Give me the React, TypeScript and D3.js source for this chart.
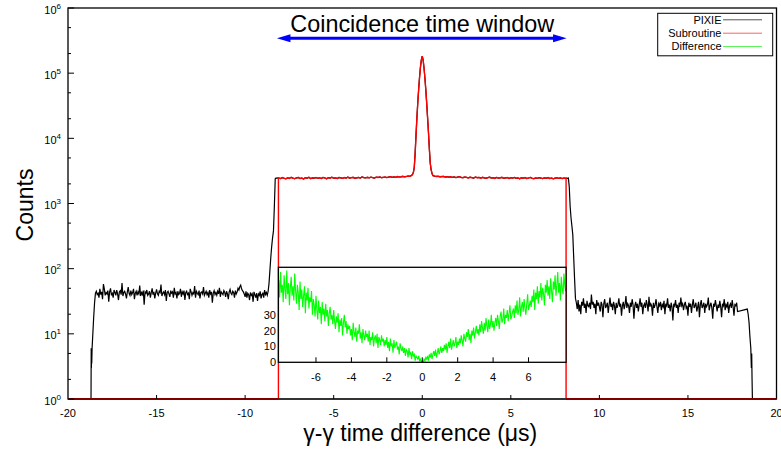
import React from 'react';
import * as d3 from 'd3';

// ---------- DATA ----------
const xTicks = [-20, -15, -10, -5, 0, 5, 10, 15, 20];
const yTickExps = [0, 1, 2, 3, 4, 5, 6];
const insetXTicks = [-6, -4, -2, 0, 2, 4, 6];
const insetYTicks = [0, 10, 20, 30];
const windowEdge = 8.12;

// PIXIE (black) pieces
const pixieLeftEdgeX = [-20, -18.7, -18.69, -18.68, -18.67, -18.66, -18.64, -18.55, -18.5, -18.45, -18.4, -18.35];
const pixieLeftEdgeY = [1, 1, 6, 3, 6, 3.5, 6, 18, 30, 42, 45, 40];
const pixieLeftFlatStart = -18.3;
const pixieFlatStep = 0.05;
const pixieLeftFlat = [
  42, 36, 49, 40, 44, 34, 58, 49, 39, 43, 41, 46, 31, 44, 50, 40, 42, 36, 47, 43,
  39, 47, 41, 33, 44, 46, 40, 60, 38, 43, 45, 41, 35, 44, 52, 42, 39, 46, 40, 43,
  49, 34, 42, 45, 39, 44, 41, 55, 38, 43, 40, 46, 28, 44, 42, 47, 39, 41, 45, 36,
  43, 50, 40, 44, 35, 42, 48, 41, 39, 45, 43, 57, 38, 42, 44, 40, 47, 32, 43, 45,
  41, 37, 46, 42, 44, 36, 51, 41, 43, 35, 45, 40, 42, 49, 37, 44, 41, 46, 33, 43,
  45, 40, 42, 34, 49, 44, 39, 43, 41, 54, 36, 45, 42, 40, 46, 35, 43, 44, 41, 52,
  39, 42, 45, 40, 43, 36, 47, 41, 44, 30, 42, 46, 40, 43, 39, 45, 41, 51, 37, 44,
  42, 40, 46, 43, 37, 45, 41, 34, 44, 48, 42, 40, 45, 43, 36, 46, 41, 44, 50, 47,
  53, 56, 49, 46, 44, 41, 37, 45, 36, 42, 40, 33, 43, 39, 41, 31, 44, 40, 36, 42,
  32, 41, 39, 45, 35, 40, 42, 36, 47, 40, 43, 39,
];
const pixieLeftRiseX = [-8.7, -8.65, -8.6, -8.55, -8.5, -8.45, -8.4, -8.35, -8.3, -8.25, -8.2, -8.15];
const pixieLeftRiseY = [45, 60, 95, 150, 220, 300, 380, 900, 2400, 2470, 2440, 2480];
const pixieRightDropX = [8.15, 8.2, 8.25, 8.3, 8.35, 8.4, 8.45, 8.5, 8.55, 8.6, 8.65];
const pixieRightDropY = [2450, 2430, 2460, 1800, 900, 600, 450, 330, 150, 70, 35];
const pixieRightFlatStart = 8.7;
const pixieRightFlat = [
  30, 24, 33, 22, 28, 20, 31, 27, 35, 25, 29, 21, 32, 27, 26, 30, 24, 40, 28, 31,
  25, 29, 20, 33, 27, 30, 26, 22, 31, 28, 18, 29, 34, 25, 27, 30, 21, 28, 36, 26,
  29, 23, 31, 27, 20, 30, 25, 28, 35, 26, 29, 19, 27, 31, 24, 28, 38, 25, 29, 27,
  21, 30, 26, 34, 28, 17, 27, 31, 25, 29, 22, 28, 35, 26, 30, 20, 27, 29, 25, 33,
  28, 22, 37, 26, 29, 27, 19, 30, 25, 28, 34, 26, 21, 29, 27, 31, 23, 28, 26, 32,
  20, 29, 27, 35, 25, 28, 22, 30, 26, 16, 29, 27, 33, 25, 28, 21, 30, 26, 36, 27,
  29, 23, 28, 31, 25, 27, 19, 30, 26, 29, 21, 28, 34, 25, 27, 30, 22, 26, 31, 18,
  28, 33, 25, 27, 30, 21, 29, 26, 28, 36, 23, 27, 30, 25, 17, 29, 26, 33, 27, 22,
  28, 25, 32, 26, 18, 29, 27, 34, 23, 28, 26, 31, 21, 27, 29, 25, 33, 26, 19, 28,
  27, 30, 22,
];
const pixieRightEdgeX = [18.35, 18.4, 18.45, 18.5, 18.55, 18.58, 18.6, 18.62, 18.64, 20];
const pixieRightEdgeY = [24, 20, 15, 9, 6, 3, 5, 2, 1, 1];

// Subroutine (red) pieces
const plateauStep = 0.1;
const subLeftPlateauStart = -8.1;
const subLeftPlateau = [
  2460, 2410, 2500, 2440, 2390, 2480, 2430, 2520, 2450, 2400,
  2470, 2510, 2420, 2460, 2380, 2490, 2440, 2530, 2410, 2470,
  2450, 2500, 2430, 2480, 2420, 2510, 2460, 2400, 2490, 2450,
  2530, 2440, 2480, 2420, 2510, 2470, 2430, 2500, 2460, 2540,
  2450, 2490, 2520, 2440, 2480, 2510, 2460, 2550, 2490, 2470,
  2520, 2480, 2540, 2500, 2460, 2530, 2510, 2560, 2490, 2520,
  2550, 2500, 2540, 2580, 2520, 2560, 2530, 2590, 2550, 2570,
  2610, 2560, 2600, 2640, 2620, 2700,
];
const subPeakX = [-0.55, -0.5, -0.45, -0.4, -0.35, -0.3, -0.25, -0.2, -0.15, -0.1, -0.05, 0,
  0.05, 0.1, 0.15, 0.2, 0.25, 0.3, 0.35, 0.4, 0.45, 0.5, 0.55];
const subPeakY = [2800, 3000, 3600, 6000, 11500, 21000, 36000, 58000, 88000, 125000, 160000, 182000,
  158000, 120000, 85000, 56000, 35000, 21000, 12500, 7000, 4200, 3300, 2900];
const subRightPlateauStart = 0.6;
const subRightPlateau = [
  2680, 2630, 2600, 2620, 2570, 2590, 2610, 2550, 2580, 2540,
  2570, 2520, 2560, 2500, 2540, 2580, 2510, 2490, 2550, 2520,
  2470, 2530, 2500, 2460, 2540, 2490, 2510, 2450, 2520, 2480,
  2440, 2500, 2530, 2470, 2490, 2430, 2510, 2460, 2480, 2520,
  2440, 2470, 2500, 2420, 2490, 2450, 2510, 2430, 2470, 2400,
  2480, 2450, 2500, 2420, 2460, 2510, 2440, 2400, 2470, 2430,
  2490, 2450, 2410, 2480, 2440, 2500, 2420, 2460, 2390, 2450,
  2480, 2430, 2470, 2410, 2460, 2440,
];

// Difference (green), bins from -8.1 step 0.05
const diffStart = -8.1;
const diffStep = 0.05;
const diffValues = [
  52, 41, 57, 44, 49, 38, 55, 46, 40, 58, 43, 50, 36, 47, 54, 42, 48, 39, 56, 45,
  37, 49, 44, 33, 51, 40, 46, 35, 42, 48, 31, 44, 39, 47, 34, 41, 38, 45, 30, 40,
  36, 29, 42, 33, 27, 39, 31, 35, 24, 38, 30, 34, 26, 37, 29, 33, 23, 31, 35, 27,
  30, 24, 33, 26, 21, 29, 25, 31, 19, 27, 23, 28, 17, 25, 30, 22, 26, 18, 24, 21,
  23, 17, 21, 14, 25, 19, 16, 22, 13, 20, 18, 24, 15, 19, 12, 21, 17, 14, 20, 16,
  18, 13, 20, 11, 16, 14, 19, 10, 15, 17, 12, 18, 9, 16, 14, 11, 17, 13, 15, 10,
  14, 11, 16, 9, 13, 7, 15, 10, 12, 6, 14, 9, 11, 13, 8, 10, 5, 12, 9, 7,
  10, 6, 9, 4, 8, 7, 3, 9, 5, 6, 2, 7, 4, 5, 1, 4, 3, 2, 4, 1,
  2, 0, 1, 0, 2,
  1, 3, 2, 4, 1, 5, 3, 6, 2, 5, 7, 4, 8, 3, 6, 9, 5, 7, 10, 6,
  9, 7, 11, 8, 12, 6, 10, 13, 9, 15, 8, 11, 14, 10, 12, 16, 9, 13, 11, 15,
  12, 17, 14, 10, 18, 15, 13, 19, 16, 21, 14, 18, 12, 20, 17, 22, 15, 19, 23, 18,
  21, 17, 24, 19, 26, 22, 18, 25, 20, 28, 23, 19, 27, 21, 24, 30, 22, 26, 20, 25,
  28, 23, 30, 26, 21, 29, 32, 25, 27, 34, 24, 30, 28, 33, 26, 31, 36, 27, 29, 32,
  34, 28, 36, 31, 39, 30, 33, 41, 29, 35, 38, 32, 40, 34, 30, 37, 43, 33, 36, 39,
  35, 42, 38, 46, 33, 44, 40, 48, 37, 45, 41, 50, 39, 47, 43, 36, 49, 44, 52, 42,
  48, 40, 53, 45, 38, 51, 46, 55, 42, 49, 57, 44, 50, 39, 54, 47, 43, 56, 48, 45,
];

const legendItems = [
  { label: 'PIXIE', color: '#555555' },
  { label: 'Subroutine', color: '#ff6060' },
  { label: 'Difference', color: '#50f050' },
];

type P = [number, number];
const zip = (xs: number[], ys: number[]): P[] => xs.map((v, i) => [v, ys[i]]);
const binned = (start: number, step: number, vals: number[]): P[] =>
  vals.map((v, i) => [+(start + i * step).toFixed(3), v]);

const FONT = "'Liberation Sans', Arial, Helvetica, sans-serif";

export default function App() {
  const x = d3.scaleLinear().domain([-20, 20]).range([68, 776.5]);
  const y = d3.scaleLog().domain([1, 1e6]).range([399, 8]);
  const xi = d3.scaleLinear().domain([-windowEdge, windowEdge]).range([x(-windowEdge), x(windowEdge)]);
  const yi = d3.scaleLinear().domain([0, 60]).range([362.3, 267.3]);

  const subPlateau: P[] = [
    ...binned(subLeftPlateauStart, plateauStep, subLeftPlateau),
    ...zip(subPeakX, subPeakY),
    ...binned(subRightPlateauStart, plateauStep, subRightPlateau),
  ];
  const pixie: P[] = [
    ...zip(pixieLeftEdgeX, pixieLeftEdgeY),
    ...binned(pixieLeftFlatStart, pixieFlatStep, pixieLeftFlat),
    ...zip(pixieLeftRiseX, pixieLeftRiseY),
    ...subPlateau,
    ...zip(pixieRightDropX, pixieRightDropY),
    ...binned(pixieRightFlatStart, pixieFlatStep, pixieRightFlat),
    ...zip(pixieRightEdgeX, pixieRightEdgeY),
  ];
  const sub: P[] = [
    [-windowEdge, 1],
    [-windowEdge, subLeftPlateau[0]],
    ...subPlateau,
    [windowEdge, subRightPlateau[subRightPlateau.length - 1]],
    [windowEdge, 1],
  ];
  const diff: P[] = binned(diffStart, diffStep, diffValues);

  const line = d3.line<P>().x(d => x(d[0])).y(d => y(Math.max(1, d[1])));
  const lineI = d3.line<P>().x(d => xi(d[0])).y(d => yi(d[1]));

  const [x0, x1] = x.range();
  const [yb, yt] = y.range();
  const minorTicks: number[] = [];
  yTickExps.slice(0, -1).forEach(e => { minorTicks.push(2 * 10 ** e, 5 * 10 ** e); });

  const ix0 = xi.range()[0], ix1 = xi.range()[1];
  const iy0 = yi.range()[0], iy1 = yi.range()[1];

  const arrowY = 38.3;
  const aL = x(-windowEdge), aR = x(windowEdge);

  return (
    <svg width={781} height={452} style={{ position: 'absolute', left: 0, top: 0, background: '#fff' }}
      fontFamily={FONT}>
      <defs>
        <clipPath id="plotClip"><rect x={x0} y={yt} width={x1 - x0} height={yb - yt} /></clipPath>
        <clipPath id="insetClip"><rect x={ix0} y={iy1} width={ix1 - ix0} height={iy0 - iy1} /></clipPath>
      </defs>
      <rect x={0} y={0} width={781} height={452} fill="#fff" />

      {/* curves */}
      <g clipPath="url(#plotClip)">
        <path d={line(pixie) || ''} fill="none" stroke="#000" strokeWidth={1.2} />
        <path d={line(sub) || ''} fill="none" stroke="#ff0000" strokeWidth={1.4} />
      </g>

      {/* frame */}
      <rect x={x0} y={yt} width={x1 - x0} height={yb - yt} fill="none" stroke="#000" strokeWidth={1.3} />
      <line x1={x(-windowEdge)} x2={x(windowEdge)} y1={yb} y2={yb} stroke="#333" strokeWidth={2.2} />
      <line x1={x0} x2={x(-windowEdge)} y1={yb} y2={yb} stroke="#800000" strokeWidth={2.2} />
      <line x1={x(windowEdge)} x2={x1} y1={yb} y2={yb} stroke="#800000" strokeWidth={2.2} />

      {/* x ticks */}
      {xTicks.map(t => (
        <g key={'xt' + t}>
          {t > -20 && t < 20 && <line x1={x(t)} x2={x(t)} y1={yb} y2={yb - 4} stroke="#000" strokeWidth={1} />}
          <text x={x(t)} y={417} fontSize={11} textAnchor="middle" fill="#000">{t}</text>
        </g>
      ))}
      {/* y ticks */}
      {yTickExps.map(e => (
        <g key={'yt' + e}>
          <line x1={x0} x2={x0 + 6} y1={y(10 ** e)} y2={y(10 ** e)} stroke="#000" strokeWidth={1} />
          <text x={61} y={y(10 ** e) + 5.5} fontSize={11} textAnchor="end" fill="#000">
            10<tspan dy={-5} fontSize={8}>{e}</tspan>
          </text>
        </g>
      ))}
      {minorTicks.map(v => (
        <line key={'mt' + v} x1={x0} x2={x0 + 3} y1={y(v)} y2={y(v)} stroke="#000" strokeWidth={1} />
      ))}

      {/* inset */}
      <rect x={ix0} y={iy1} width={ix1 - ix0} height={iy0 - iy1} fill="#fff" />
      <g clipPath="url(#insetClip)">
        <path d={lineI(diff) || ''} fill="none" stroke="#00ff00" strokeWidth={1.1} />
      </g>
      <rect x={ix0} y={iy1} width={ix1 - ix0} height={iy0 - iy1} fill="none" stroke="#000" strokeWidth={1.3} />
      {insetXTicks.map(t => (
        <g key={'ixt' + t}>
          <line x1={xi(t)} x2={xi(t)} y1={iy0} y2={iy0 - 5} stroke="#000" strokeWidth={1} />
          <text x={xi(t)} y={380.5} fontSize={11} textAnchor="middle" fill="#000">{t}</text>
        </g>
      ))}
      {insetYTicks.map(t => (
        <text key={'iyt' + t} x={276} y={yi(t) + 4} fontSize={11} textAnchor="end" fill="#000">{t}</text>
      ))}

      {/* coincidence window arrow */}
      <line x1={aL + 10} x2={aR - 10} y1={arrowY} y2={arrowY} stroke="#0000ff" strokeWidth={3} />
      <path d={`M${aL - 1.5},${arrowY} L${aL + 12},${arrowY - 4} L${aL + 12},${arrowY + 4} Z`} fill="#0000ff" />
      <path d={`M${aR + 0.5},${arrowY} L${aR - 13},${arrowY - 4} L${aR - 13},${arrowY + 4} Z`} fill="#0000ff" />
      <text x={(aL + aR) / 2} y={31.5} fontSize={23.4} textAnchor="middle" fill="#000">Coincidence time window</text>

      {/* legend */}
      <rect x={657.7} y={13.3} width={115} height={42.5} fill="#fff" stroke="#000" strokeWidth={1} />
      {legendItems.map((it, i) => (
        <g key={it.label}>
          <text x={721.5} y={23.5 + i * 13.4} fontSize={11} textAnchor="end" fill="#000">{it.label}</text>
          <line x1={723} x2={762} y1={19.8 + i * 13.4} y2={19.8 + i * 13.4} stroke={it.color} strokeWidth={1} />
        </g>
      ))}

      {/* axis titles */}
      <text x={(x0 + x1) / 2 - 2} y={441} fontSize={23} textAnchor="middle" fill="#000">γ-γ time difference (μs)</text>
      <text transform={`translate(33,205) rotate(-90)`} fontSize={23} textAnchor="middle" fill="#000">Counts</text>
    </svg>
  );
}
